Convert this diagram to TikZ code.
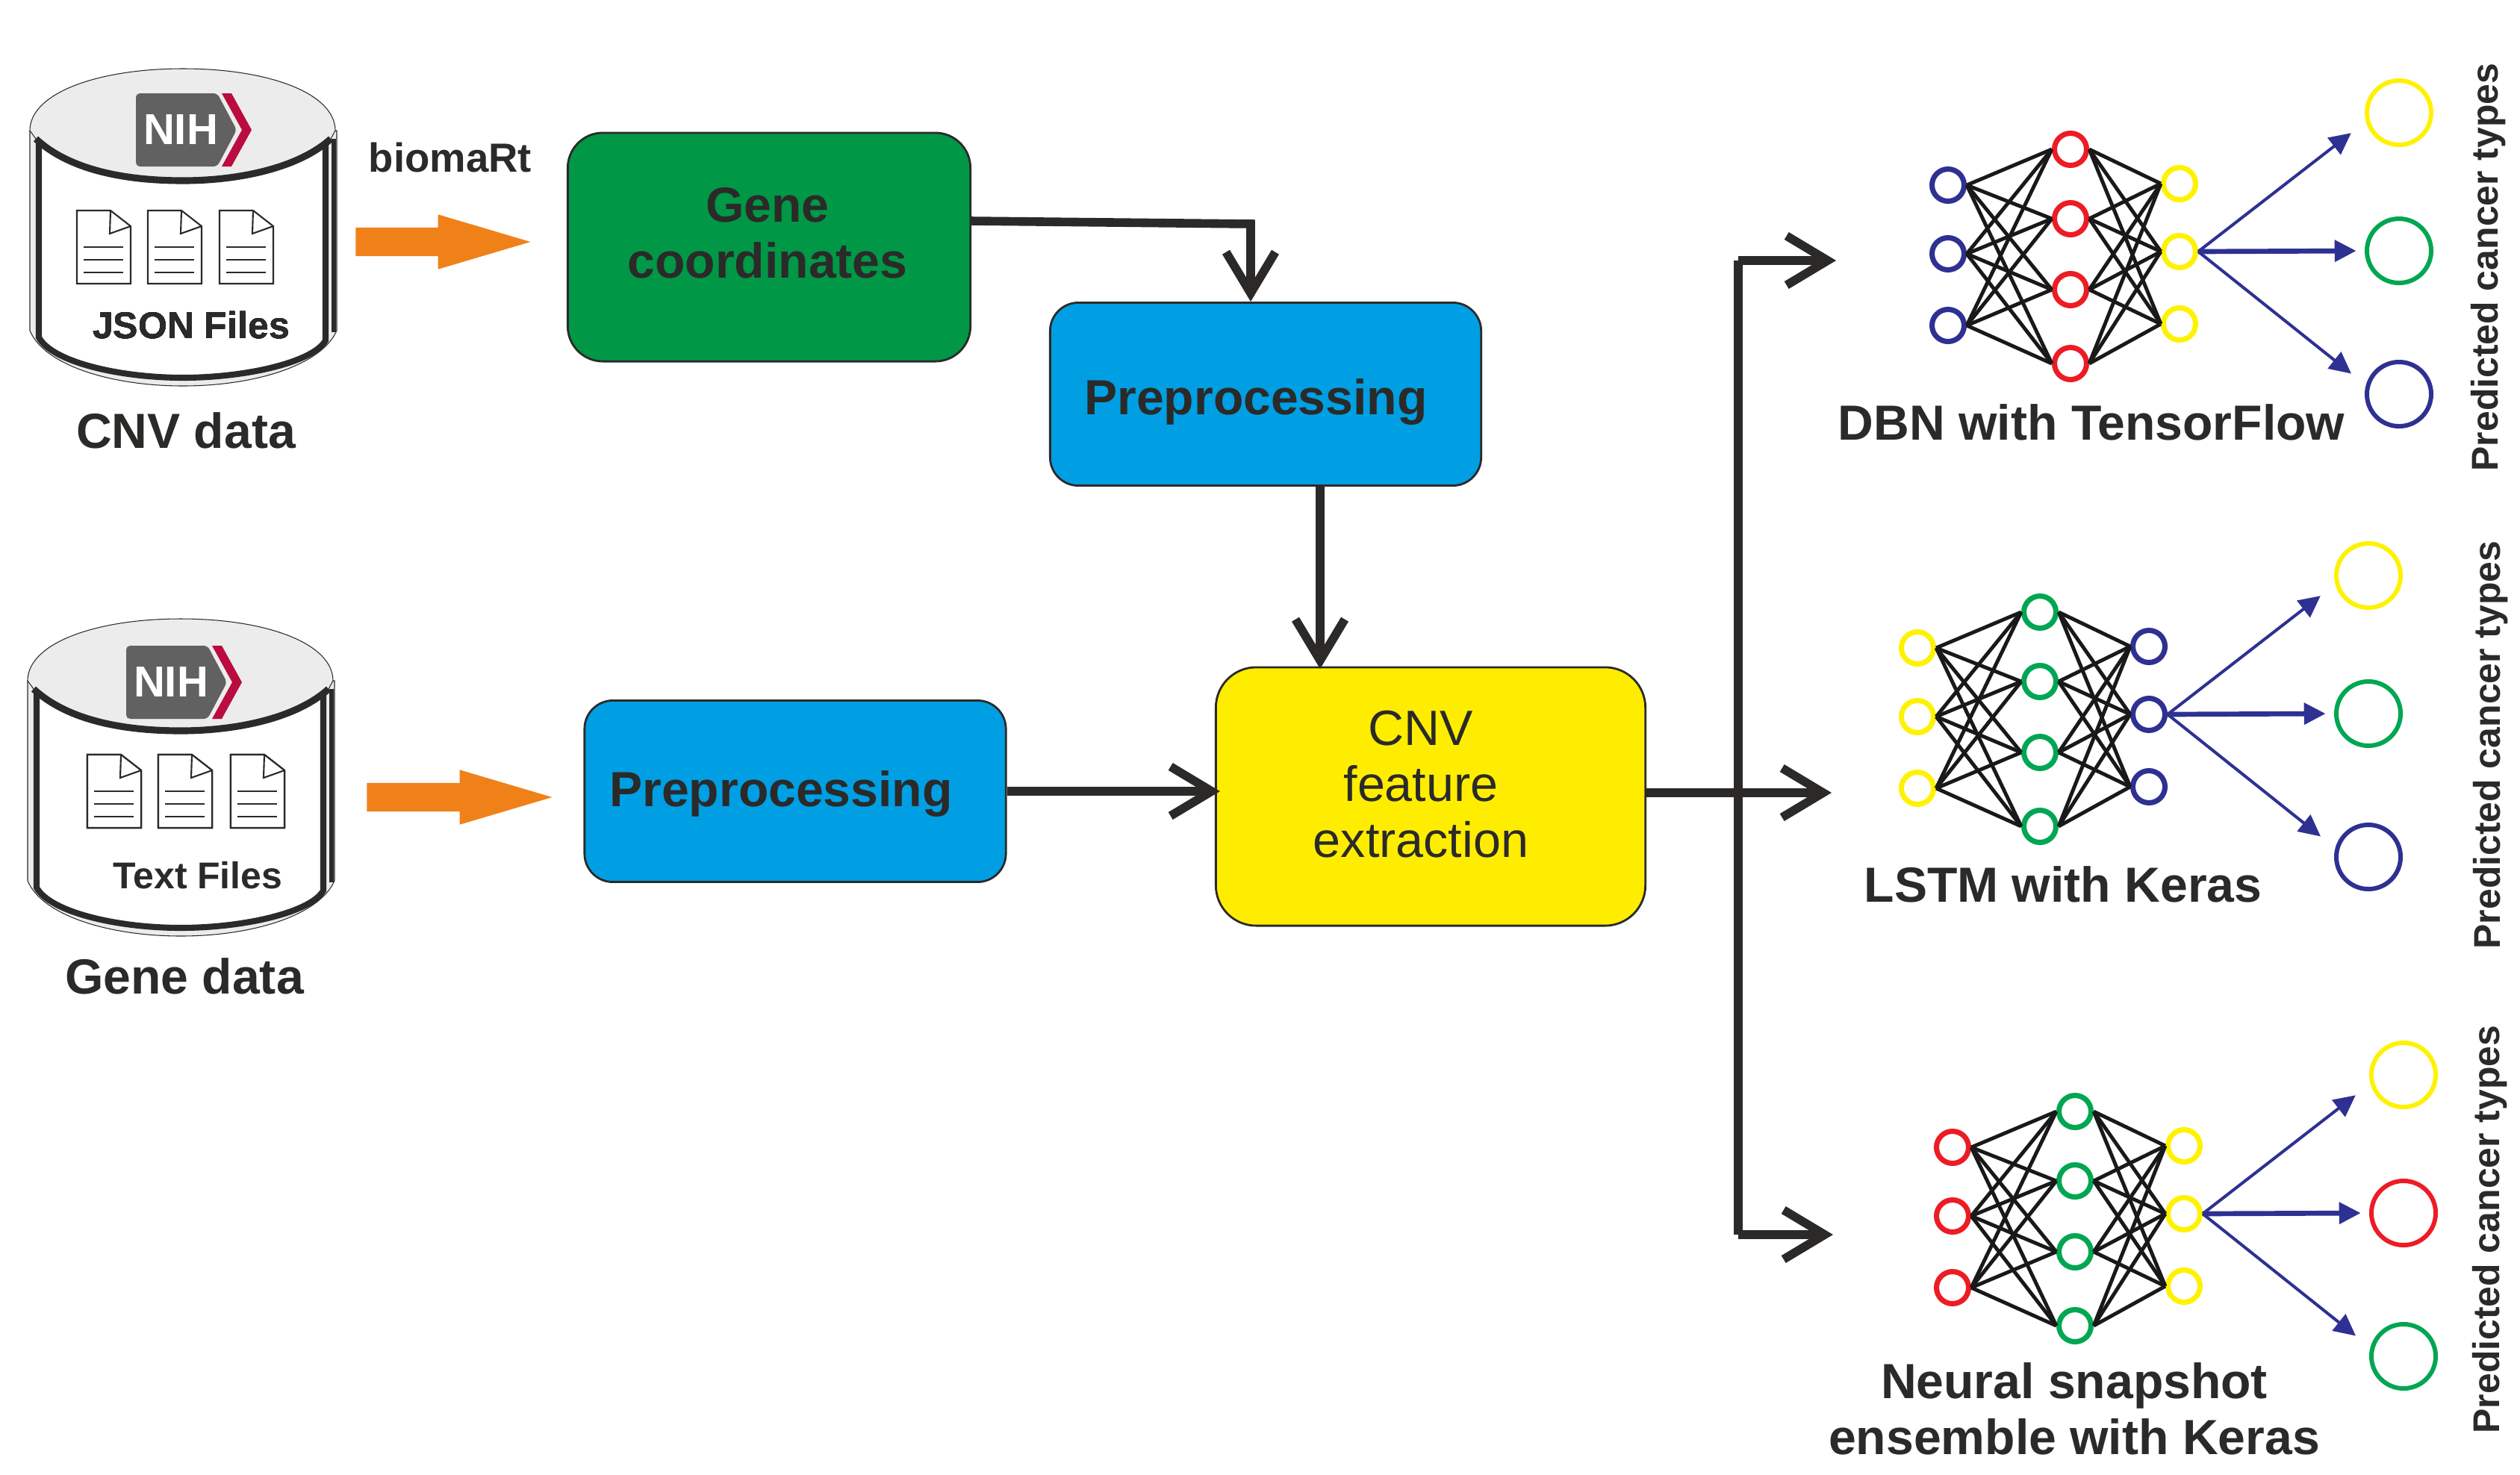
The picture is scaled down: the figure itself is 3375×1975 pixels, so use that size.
\documentclass[tikz,border=0pt]{standalone}
\usepackage{fontspec}
\setmainfont{Liberation Sans}
\usetikzlibrary{arrows.meta,shapes.arrows}
\definecolor{ink}{HTML}{2B2A29}
\definecolor{diskgray}{HTML}{ECECEC}
\definecolor{logogray}{HTML}{616161}
\definecolor{logored}{HTML}{BA0C3F}
\definecolor{netred}{HTML}{ED1C24}
\definecolor{netnavy}{HTML}{2E3192}
\definecolor{netyellow}{HTML}{FFF200}
\definecolor{netgreen}{HTML}{00A651}
\definecolor{boxgreen}{HTML}{009846}
\definecolor{boxblue}{HTML}{009FE3}
\definecolor{boxyellow}{HTML}{FFED00}
\definecolor{boxorange}{HTML}{F08119}

\newcommand{\datadrum}[2]{
\begin{scope}[shift={(#1,#2)}]
\filldraw[fill=diskgray,draw=ink,line width=0.3pt] (40,175) -- (40,443) .. controls (60,490) and (150,517) .. (245,517) .. controls (340,517) and (430,490) .. (451,443) -- (451,175) -- cycle;
\draw[ink,line width=1.6pt] (447,186) -- (447,445);
\filldraw[fill=white,draw=ink,line width=2.3pt] (52,186) -- (52,452) .. controls (70,485) and (160,506) .. (245,506) .. controls (330,506) and (420,485) .. (436,456) -- (436,186) -- cycle;
\filldraw[fill=diskgray,draw=ink,line width=0.3pt] (40,175) .. controls (40,125) and (130,92) .. (245,92) .. controls (360,92) and (449,125) .. (449,175) -- (443,186) .. controls (400,225) and (320,242) .. (245,242) .. controls (160,242) and (90,225) .. (48,186) -- cycle;
\draw[ink,line width=2.6pt] (48,186) .. controls (90,225) and (160,242) .. (245,242) .. controls (320,242) and (400,225) .. (443,186);
\end{scope}}

\newcommand{\nihlogo}[3]{
\begin{scope}[shift={(#2,#3)}]
\fill[logogray,rounded corners=1.5pt] (0,0) -- (109,0) -- (135,49) -- (109,98) -- (0,98) -- cycle;
\fill[logored] (115,0) -- (128,0) -- (155,49) -- (128,98) -- (115,98) -- (142,49) -- cycle;
\node[nihtext] (#1) at (60,49) {NIH};
\end{scope}}

\newcommand{\filesheet}[2]{
\begin{scope}[shift={(#1,#2)}]
\draw[sheet,fill=white] (0,0) -- (45,0) -- (72,21) -- (72,98) -- (0,98) -- cycle;
\draw[sheet] (45,0) -- (44,31) -- (72,21);
\foreach \v in {49,66,83} \draw[sheet] (9,\v) -- (62,\v);
\end{scope}}

\newcommand{\cancernet}[9]{
\begin{scope}[shift={(#2,#3)}]
\foreach \i/\v in {1/0,2/92,3/188} \node[nnode,draw=#4] (#1i\i) at (0,\v) {};
\foreach \i/\v in {1/-48,2/45,3/140,4/239} \node[nnode,draw=#5] (#1h\i) at (164,\v) {};
\foreach \i/\v in {1/-2,2/89,3/186} \node[nnode,draw=#6] (#1o\i) at (310,\v) {};
\node[cnode,draw=#7] (#1r1) at (604,-97) {};
\node[cnode,draw=#8] (#1r2) at (604,88) {};
\node[cnode,draw=#9] (#1r3) at (604,280) {};
\foreach \a in {1,2,3} \foreach \b in {1,2,3,4} {
  \draw[nline] (#1i\a.east) -- (#1h\b.west);
  \draw[nline] (#1h\b.east) -- (#1o\a.west);}
\draw[barb] (#1o2.east) -- (#1r1.195);
\draw[barb,line width=1.9pt,shorten >=3.2pt] (#1o2.east) -- (#1r2.west);
\draw[barb] (#1o2.east) -- (#1r3.165);
\end{scope}}

\begin{document}
\begin{tikzpicture}[x=0.01cm,y=-0.01cm,
  every node/.style={text=ink,inner sep=0pt},
  boldfont/.style={font=\fontsize{18.8}{21.3}\selectfont\bfseries},
  smallfont/.style={font=\fontsize{14.2}{17}\selectfont\bfseries},
  bigbox/.style={draw=ink,line width=0.8pt,rounded corners=0.38cm},
  boxtext/.style={boldfont,align=center,anchor=base},
  nihtext/.style={text=white,font=\fontsize{16.5}{18}\selectfont\bfseries},
  sheet/.style={draw=ink,line width=0.6pt},
  nnode/.style={circle,fill=white,line width=2pt,minimum size=0.43cm},
  cnode/.style={circle,line width=1.7pt,minimum size=0.86cm},
  nline/.style={draw=black!90,line width=1.4pt},
  barb/.style={draw=netnavy,line width=1.15pt,shorten >=7.1pt,-{Triangle[length=2.9mm,width=2.8mm,fill=netnavy]}},
  ar/.style={draw=ink,line width=3.3pt,-{Straight Barb[length=5.5mm,width=6.6mm]}},
  feed/.style={single arrow,anchor=tip,fill=boxorange,inner ysep=0.185cm,single arrow head extend=0.175cm,single arrow tip angle=33,single arrow head indent=0pt}]
\useasboundingbox (0,0) rectangle (3375,1975);
\datadrum{0}{0}
\datadrum{-3}{737}
\nihlogo{logoa}{182}{125}
\nihlogo{logob}{169}{865}
\foreach \x in {103,198,294} \filesheet{\x}{282}
\foreach \x in {117,212,309} \filesheet{\x}{1011}
\node[smallfont] (jsonf) at (256,436) {JSON Files};
\node[smallfont] (textf) at (265,1173) {Text Files};
\node[boldfont] (cnvd) at (249,577) {CNV data};
\node[boldfont] (gened) at (247,1308) {Gene data};
\node[font=\fontsize{15.5}{18}\selectfont\bfseries] (bmart) at (603,211) {biomaRt};
\node[feed,minimum height=2.34cm] (feeda) at (713,324) {};
\node[feed,minimum height=2.48cm] (feedb) at (742,1068) {};
\node[bigbox,fill=boxgreen,rounded corners=0.47cm,minimum width=5.39cm,minimum height=3.06cm] (gene) at (1030,331) {};
\node[boxtext] (genet) at (1028,372) {Gene\\coordinates};
\node[bigbox,fill=boxblue,minimum width=5.77cm,minimum height=2.45cm] (prea) at (1695,528) {};
\node[boxtext] (preat) at (1682,555) {Preprocessing};
\node[bigbox,fill=boxblue,minimum width=5.64cm,minimum height=2.43cm] (preb) at (1065,1060) {};
\node[boxtext] (prebt) at (1046,1080) {Preprocessing};
\node[bigbox,fill=boxyellow,rounded corners=0.54cm,minimum width=5.75cm,minimum height=3.46cm] (cnv) at (1916,1067) {};
\node[boxtext,font=\fontsize{18.9}{21.3}\selectfont] (cnvt) at (1903,1148) {CNV\\feature\\extraction};
\cancernet{dbn}{2609}{248}{netnavy}{netred}{netyellow}{netyellow}{netgreen}{netnavy}
\cancernet{lstm}{2568}{868}{netyellow}{netgreen}{netnavy}{netyellow}{netgreen}{netnavy}
\cancernet{snap}{2615}{1537}{netred}{netgreen}{netyellow}{netyellow}{netred}{netgreen}
\node[boldfont] (dbnl) at (2801,566) {DBN with TensorFlow};
\node[boldfont] (lstml) at (2763,1185) {LSTM with Keras};
\node[boldfont,align=center] (snapl) at (2778,1887) {Neural snapshot\\ensemble with Keras};
\node[smallfont,rotate=90,anchor=base] (preda) at (3345,358) {Predicted cancer types};
\node[smallfont,rotate=90,anchor=base] (predb) at (3348,998) {Predicted cancer types};
\node[smallfont,rotate=90,anchor=base] (predc) at (3347,1647) {Predicted cancer types};
\coordinate (geneout) at (1300,296);
\coordinate (bend) at (1675,300);
\coordinate (cnvin) at (1768,896);
\coordinate (cnvleft) at (1634,1060);
\coordinate (bust) at (2328,349);
\coordinate (busm) at (2328,1062);
\coordinate (busb) at (2328,1654);
\coordinate (dbnin) at (2459,349);
\coordinate (lstmin) at (2453,1062);
\coordinate (snapin) at (2455,1654);
\draw[ar] (geneout) -- (bend) -- (bend |- prea.north);
\draw[ar] (prea.south -| cnvin) -- (cnvin);
\draw[ar] (preb.east |- cnvleft) -- (cnvleft);
\draw[draw=ink,line width=3.4pt,line cap=square] (bust) -- (busb);
\draw[ar] (bust) -- (dbnin);
\draw[ar] (cnv.east |- busm) -- (lstmin);
\draw[ar] (busb) -- (snapin);
\end{tikzpicture}
\end{document}
